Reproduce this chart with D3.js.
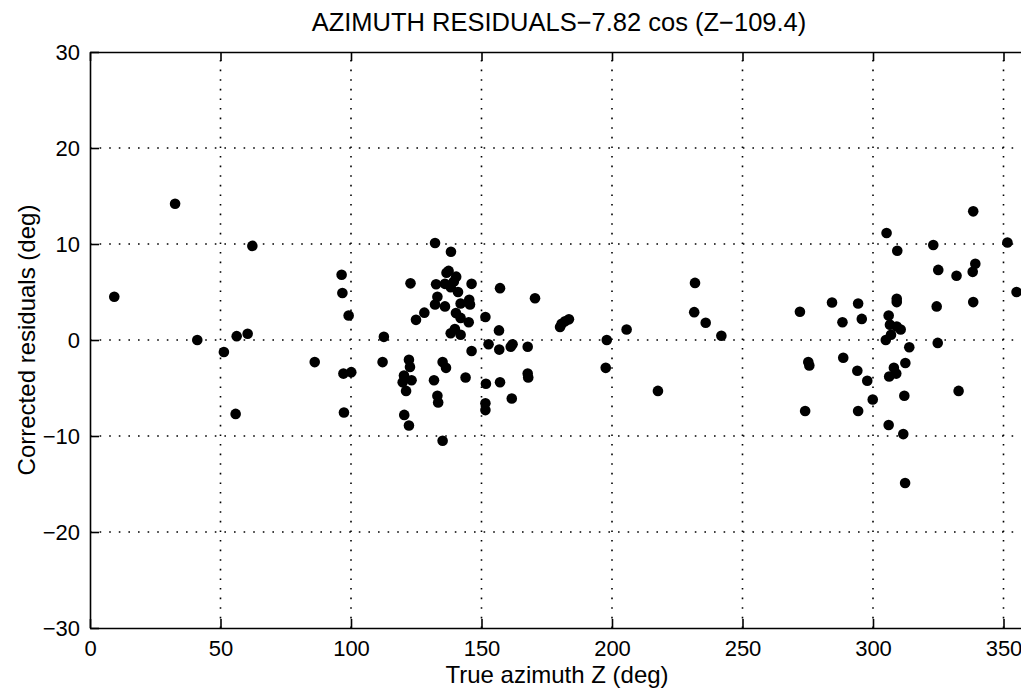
<!DOCTYPE html>
<html lang="en">
<head>
<meta charset="utf-8">
<title>Azimuth residuals</title>
<script src="https://cdn.jsdelivr.net/npm/d3@7"></script>
<style>
body { margin: 0; background: #fff; }
text { font-family: "Liberation Sans", Arial, Helvetica, sans-serif; fill: #000; }
.tick text { font-size: 22px; }
.grid line { stroke: #000; stroke-width: 1.6px; stroke-dasharray: 1.6, 8; }
.axis path, .axis line { stroke: #000; stroke-width: 1.6px; }
.dot { fill: #000; }
</style>
</head>
<body>
<script>
// tick values
var xTicks = [0, 50, 100, 150, 200, 250, 300, 350];
var yTicks = [-30, -20, -10, 0, 10, 20, 30];

// true azimuth Z (deg) and corrected residual (deg)
var azimuth = [
  9.3, 32.6, 41.1, 51.3, 56.2, 60.4, 55.8, 62.2, 86.1, 96.4, 96.7, 99.1, 112.6,
  97.1, 100.1, 97.3, 112.1,
  122.8, 132.2, 138.3, 136.6, 137.4, 140.3, 139.4, 132.6, 138.2, 141.0, 146.2, 136.0,
  133.1, 132.2, 136.0, 128.1, 124.9, 142.0, 145.3, 145.6, 140.2, 142.0, 145.1,
  138.2, 139.8, 142.0, 151.5, 157.1, 156.7, 146.2, 152.7, 156.8, 161.2, 161.9,
  167.7, 170.5,
  122.2, 122.6, 120.3, 119.8, 121.1, 123.2, 135.1, 136.4, 131.8, 133.1, 133.4,
  143.9, 151.7, 157.1, 151.5, 151.5, 120.4, 122.2, 135.1, 161.6, 167.7, 167.9,
  180.1, 180.7, 182.0, 183.5, 205.6, 198.0, 197.6, 217.6, 231.8, 231.5, 235.9, 241.9,
  272.0, 284.3, 294.3, 288.3, 295.7, 305.2, 309.3, 309.1, 309.1, 323.1, 325.0,
  332.0, 338.2, 339.2, 338.4, 351.5, 355.0, 324.4, 338.4, 306.0, 306.5, 309.1,
  310.6, 306.9, 304.9, 313.9, 324.8, 312.4, 308.0, 308.9, 306.2, 297.8, 294.0,
  288.6, 275.2, 275.6, 299.9, 312.0, 332.8, 274.0, 294.3, 306.0, 311.6, 312.3
];
var residual = [
  4.5, 14.2, 0.0, -1.25, 0.4, 0.65, -7.7, 9.8, -2.3, 6.8, 4.9, 2.55, 0.33,
  -3.5, -3.35, -7.55, -2.3,
  5.9, 10.1, 9.2, 7.0, 7.2, 6.6, 6.1, 5.8, 5.5, 5.0, 5.85, 5.85,
  4.5, 3.7, 3.5, 2.85, 2.1, 3.8, 4.2, 3.7, 2.8, 2.3, 1.85,
  0.7, 1.15, 0.55, 2.4, 5.4, 1.0, -1.15, -0.45, -1.0, -0.7, -0.45,
  -0.7, 4.35,
  -2.05, -2.8, -3.7, -4.4, -5.3, -4.2, -2.3, -2.9, -4.2, -5.8, -6.5,
  -3.9, -4.55, -4.4, -6.6, -7.3, -7.8, -8.9, -10.5, -6.1, -3.5, -3.9,
  1.35, 1.7, 1.95, 2.15, 1.1, 0.0, -2.9, -5.3, 5.95, 2.9, 1.8, 0.45,
  2.95, 3.9, 3.8, 1.85, 2.2, 11.15, 9.3, 4.3, 3.95, 9.9, 7.3,
  6.7, 7.1, 7.95, 13.4, 10.15, 5.0, 3.5, 3.95, 2.55, 1.6, 1.4,
  1.1, 0.55, 0.0, -0.75, -0.3, -2.4, -2.9, -3.5, -3.8, -4.25, -3.2,
  -1.85, -2.3, -2.65, -6.2, -5.8, -5.3, -7.4, -7.4, -8.85, -9.8, -14.9
];

var titleText = "AZIMUTH RESIDUALS\u22127.82 cos (Z\u2212109.4)";
var xLabel = "True azimuth Z (deg)";
var yLabel = "Corrected residuals (deg)";

var w = 1021, h = 692;
// plot box; the right edge (360 deg) falls just past the picture
var pl = 90, pr = 1029.6, pt = 52, pb = 628;

var svg = d3.select("body").append("svg")
  .attr("width", w)
  .attr("height", h);

var x = d3.scaleLinear().domain([0, 360]).range([pl, pr]);
var y = d3.scaleLinear().domain([-30, 30]).range([pb, pt]);

// dotted grid
var grid = svg.append("g").attr("class", "grid");
grid.selectAll(".gx").data(xTicks.slice(1)).enter().append("line")
  .attr("x1", d => x(d)).attr("x2", d => x(d))
  .attr("y1", pb).attr("y2", pt);
grid.selectAll(".gy").data(yTicks.slice(1, -1)).enter().append("line")
  .attr("x1", pl).attr("x2", pr)
  .attr("y1", d => y(d)).attr("y2", d => y(d));

// axes, ticks pointing inwards like matlab
var fmt = d => d < 0 ? "\u2212" + Math.abs(d) : String(d);

svg.append("g").attr("class", "axis")
  .attr("transform", "translate(0," + pb + ")")
  .call(d3.axisBottom(x).tickValues(xTicks).tickFormat(fmt)
    .tickSizeInner(-9).tickSizeOuter(0).tickPadding(12));

svg.append("g").attr("class", "axis")
  .attr("transform", "translate(" + pl + ",0)")
  .call(d3.axisLeft(y).tickValues(yTicks).tickFormat(fmt)
    .tickSizeInner(-9).tickSizeOuter(0).tickPadding(10));

svg.append("g").attr("class", "axis")
  .attr("transform", "translate(0," + pt + ")")
  .call(d3.axisTop(x).tickValues(xTicks).tickFormat("")
    .tickSizeInner(-9).tickSizeOuter(0));

svg.selectAll(".axis .tick text").attr("fill", "#000");

// data points
svg.append("g").selectAll("circle")
  .data(azimuth.map((a, i) => [a, residual[i]]))
  .enter().append("circle")
  .attr("class", "dot")
  .attr("cx", d => x(d[0]))
  .attr("cy", d => y(d[1]))
  .attr("r", 5.3);

// labels
svg.append("text")
  .attr("x", 559).attr("y", 31)
  .attr("text-anchor", "middle")
  .style("font-size", "25.5px")
  .text(titleText);

svg.append("text")
  .attr("x", 557).attr("y", 683)
  .attr("text-anchor", "middle")
  .style("font-size", "24px")
  .text(xLabel);

svg.append("text")
  .attr("transform", "translate(35," + ((pt + pb) / 2) + ") rotate(-90)")
  .attr("text-anchor", "middle")
  .style("font-size", "24px")
  .text(yLabel);
</script>
</body>
</html>
